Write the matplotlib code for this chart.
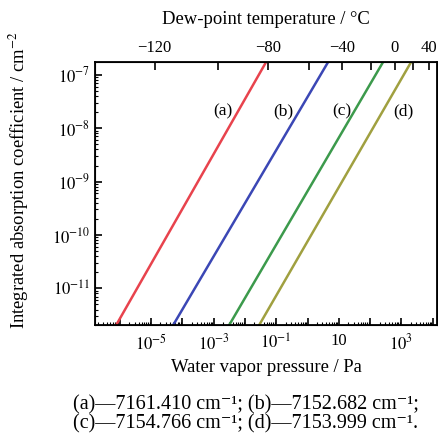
import numpy as np
import matplotlib
matplotlib.use('Agg')
import matplotlib.pyplot as plt
from matplotlib.ticker import LogLocator, NullFormatter, FixedLocator

plt.rcParams['font.family'] = ['Liberation Serif', 'DejaVu Serif']
plt.rcParams['mathtext.fontset'] = 'stix'

# %% Data
labels = ['(a)', '(b)', '(c)', '(d)']
colors = ['#e8434d', '#3b47b5', '#3c9a4c', '#a0a040']
# end points of each line: water vapor pressure (Pa) and coefficient (cm^-2)
p_start = [7.66e-7, 5.07e-5, 3.12e-3, 2.84e-2]
p_end = [4.74e-2, 4.54, 259.0, 2037.0]
k_start = [2.04e-12, 2.04e-12, 2.04e-12, 2.04e-12]
k_end = [1.74e-7, 1.74e-7, 1.74e-7, 1.74e-7]
# label positions (pressure, coefficient)
lab_p = [2.0e-3, 0.166, 12.7, 1120.0]
lab_k = [2.1e-8, 2.1e-8, 2.1e-8, 2.1e-8]

# dew-point temperature ticks and matching saturation pressures
dew_t = [-120, -100, -80, -60, -40, -20, 0, 20, 40]
dew_p = [1.3e-5, 1.4e-3, 5.5e-2, 1.08, 12.8, 103.0, 611.0, 2339.0, 7384.0]
dew_shown = [-120, -80, -40, 0, 40]

caption = ['(a)\u20147161.410 cm\u207b\u00b9; (b)\u20147152.682 cm\u207b\u00b9;',
           '(c)\u20147154.766 cm\u207b\u00b9; (d)\u20147153.999 cm\u207b\u00b9.']

# %% Plot
fig = plt.figure(figsize=(4.38, 4.37), dpi=100)
ax = fig.add_axes([0.217, 0.256, 0.781, 0.602])

for i in range(len(labels)):
    ax.plot([p_start[i], p_end[i]], [k_start[i], k_end[i]],
            color=colors[i], lw=1.8)
    ax.text(lab_p[i], lab_k[i], labels[i], fontsize=12.5,
            ha='center', va='center')

ax.set_xscale('log')
ax.set_yscale('log')
ax.set_xlim(10**-6.79, 10**4.14)
ax.set_ylim(10**-11.69, 10**-6.76)

ax.set_xticks([10.0**e for e in range(-6, 5)])
ax.set_xticklabels(['' if e % 2 == 0 else ('10' if e == 1 else '$10^{%d}$' % e)
                    for e in range(-6, 5)])
ax.xaxis.set_minor_locator(LogLocator(base=10, subs=np.arange(2, 10), numticks=50))
ax.xaxis.set_minor_formatter(NullFormatter())

ax.set_yticks([10.0**e for e in range(-11, -6)])
ax.set_yticklabels(['$10^{%d}$' % e for e in range(-11, -6)])
ax.yaxis.set_minor_locator(LogLocator(base=10, subs=np.arange(2, 10), numticks=50))
ax.yaxis.set_minor_formatter(NullFormatter())

ax.tick_params(which='both', direction='in', labelsize=12, top=False, right=False)
ax.tick_params(which='major', length=5, width=1.2)
ax.tick_params(which='minor', length=2.5, width=0.8)
ax.tick_params(axis='x', pad=6)
for s in ax.spines.values():
    s.set_linewidth(1.3)

ax.set_xlabel('Water vapor pressure / Pa', fontsize=13.4)
ax.xaxis.set_label_coords(0.5, -0.128)
ax.set_ylabel('Integrated absorption coefficient / cm$^{-2}$', fontsize=13.4)
ax.yaxis.set_label_coords(-0.187, 0.55)

# top axis: dew-point temperature
ax2 = ax.twiny()
ax2.set_xscale('log')
ax2.set_xlim(ax.get_xlim())
ax2.set_xticks(dew_p)
ax2.set_xticklabels([('\u2212%d' % -t if t < 0 else '%d' % t) if t in dew_shown else ''
                     for t in dew_t])
ax2.xaxis.set_minor_locator(FixedLocator([]))
ax2.tick_params(direction='in', labelsize=12, length=6, width=1.2, pad=4)
ax2.set_xlabel('Dew-point temperature / \u00b0C', fontsize=13.4)
ax2.xaxis.set_label_coords(0.5, 1.145)

fig.text(0.167, 0.062, caption[0], fontsize=14.5, ha='left', va='baseline')
fig.text(0.167, 0.0206, caption[1], fontsize=14.5, ha='left', va='baseline')

plt.savefig('out.png', dpi=100)
